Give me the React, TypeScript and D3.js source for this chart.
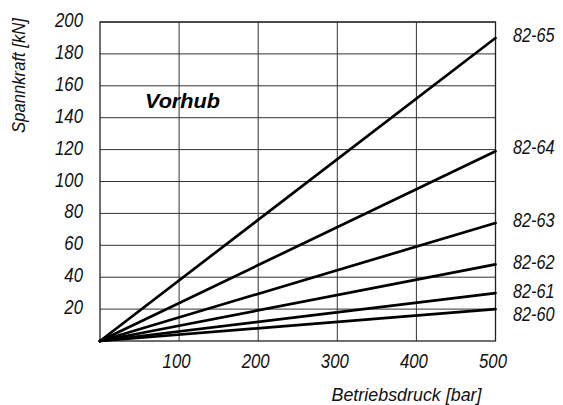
import React, { useEffect, useRef } from 'react';
import * as d3 from 'd3';

// Betriebsdruck [bar] -> Spannkraft [kN], linear from origin
const series = ['82-65', '82-64', '82-63', '82-62', '82-61', '82-60'];
const forceAt500 = [190, 119, 74, 48, 30, 20];
const labelAt = [192, 121.6, 76.1, 49.3, 31.1, 16.7];
const pressures = [0, 500];
const xTicks = [100, 200, 300, 400, 500];
const yTicks = [20, 40, 60, 80, 100, 120, 140, 160, 180, 200];

const W = 563;
const H = 405;
const FONT = '"Liberation Sans", Arial, sans-serif';

const App: React.FC = () => {
  const svgRef = useRef<SVGSVGElement>(null);

  useEffect(() => {
    if (!svgRef.current) return;
    const svg = d3.select(svgRef.current);
    svg.selectAll('*').remove();

    const x = d3.scaleLinear().domain([0, 500]).range([100, 495.5]);
    const y = d3.scaleLinear().domain([0, 200]).range([341, 22]);

    const g = svg.append('g');

    // grid
    g.selectAll('line.h')
      .data(yTicks)
      .enter().append('line')
      .attr('x1', x(0)).attr('x2', x(500))
      .attr('y1', d => y(d)).attr('y2', d => y(d))
      .attr('stroke', '#333').attr('stroke-width', 1);
    g.selectAll('line.v')
      .data(xTicks)
      .enter().append('line')
      .attr('y1', y(0)).attr('y2', y(200))
      .attr('x1', d => x(d)).attr('x2', d => x(d))
      .attr('stroke', '#333').attr('stroke-width', 1);
    g.append('rect')
      .attr('x', x(0)).attr('y', y(200))
      .attr('width', x(500) - x(0)).attr('height', y(0) - y(200))
      .attr('fill', 'none').attr('stroke', '#222').attr('stroke-width', 1.3);

    // lines
    const line = d3.line<[number, number]>().x(d => x(d[0])).y(d => y(d[1]));
    forceAt500.forEach((v) => {
      g.append('path')
        .attr('d', line(pressures.map(p => [p, v * p / 500] as [number, number])))
        .attr('fill', 'none').attr('stroke', '#000').attr('stroke-width', 2.7)
        .attr('stroke-linecap', 'round');
    });

    const txt = (sel: any, size: number) => sel
      .attr('font-family', FONT).attr('font-style', 'italic')
      .attr('font-size', size).attr('fill', '#111');

    // y ticks (squeezed to look like a narrow face)
    g.selectAll('text.yt')
      .data(yTicks)
      .enter().append('text')
      .call(txt, 19.5)
      .attr('transform', d => `translate(83,${y(d) + 5}) scale(0.86,1)`)
      .attr('text-anchor', 'end')
      .text(d => d);

    // x ticks
    g.selectAll('text.xt')
      .data(xTicks)
      .enter().append('text')
      .call(txt, 19.5)
      .attr('transform', d => `translate(${x(d) - 2.5},368) scale(0.86,1)`)
      .attr('text-anchor', 'middle')
      .text(d => d);

    // series labels
    g.selectAll('text.sl')
      .data(series)
      .enter().append('text')
      .call(txt, 20)
      .attr('transform', (_d, i) => `translate(513,${y(labelAt[i]) + 7}) scale(0.815,1)`)
      .text(d => d);

    // axis titles
    g.append('text').call(txt, 19)
      .attr('x', 331.5).attr('y', 400.5)
      .attr('textLength', 150).attr('lengthAdjust', 'spacingAndGlyphs')
      .text('Betriebsdruck [bar]');
    g.append('text').call(txt, 18.5)
      .attr('transform', 'translate(25,75.5) rotate(-90)')
      .attr('text-anchor', 'middle')
      .attr('textLength', 115).attr('lengthAdjust', 'spacingAndGlyphs')
      .text('Spannkraft [kN]');

    g.append('text')
      .attr('font-family', FONT)
      .attr('font-style', 'italic').attr('font-weight', 'bold')
      .attr('font-size', 19.5).attr('fill', '#000')
      .attr('x', 145).attr('y', 107.7)
      .attr('textLength', 75).attr('lengthAdjust', 'spacingAndGlyphs')
      .text('Vorhub');
  }, []);

  return (
    <svg
      ref={svgRef}
      width={W}
      height={H}
      style={{ position: 'absolute', left: 0, top: 0, background: '#fff', display: 'block' }}
    />
  );
};

export default App;
